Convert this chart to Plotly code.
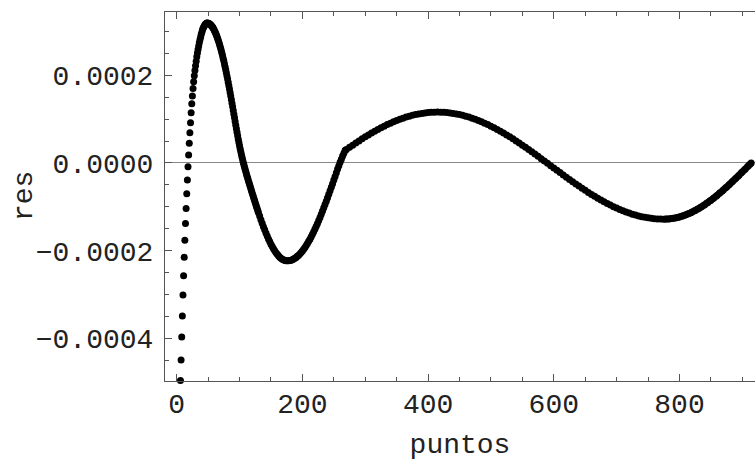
import plotly.graph_objects as go

# Point indices (x) for each read-off section of the curve
x_rise = list(range(6, 49))            # distinct dots, rising to the first peak
x_fall = list(range(49, 131))          # steep fall
x_trough = list(range(132, 269, 2))    # first trough up to the kink
x_hump = list(range(270, 776, 5))      # hump and second trough
x_tail = [778, 780, 783, 785, 788, 790, 793, 795, 798, 800, 803, 805, 808, 810,
          813, 815, 818, 820, 823, 825, 828, 830, 833, 835, 838, 840, 843, 845,
          848, 850, 853, 855, 858, 860, 863, 865, 868, 870, 873, 875, 878, 880,
          883, 885, 888, 890, 893, 895, 898, 900, 903, 905, 908, 910, 912, 914]

# Residual values, in units of 1e-6
res_rise = [-496, -449, -397, -349, -301, -257, -215, -176, -138, -104, -70, -39,
            -8.4, 18.2, 44.9, 69.1, 91.9, 114.5, 135, 153, 170, 185, 199, 211,
            222, 232, 242, 251, 259, 267, 274, 281, 287, 293, 298, 303, 307, 310,
            313, 315, 317, 318, 319]
res_fall = [319.0, 318.8, 318.3, 317.6, 316.6, 315.3, 313.8, 312.0, 310.0, 307.7,
            305.1, 302.4, 299.3, 296.0, 292.5, 288.7, 284.7, 280.4, 276.0, 271.2,
            266.3, 261.2, 255.8, 250.2, 244.5, 238.5, 232.3, 225.9, 219.3, 212.6,
            205.6, 198.6,
            191.3, 183.9, 176.3, 168.5, 160.6, 152.6, 144.5, 136.3, 128.0, 119.7,
            111.3, 102.9, 94.5, 86.2, 78.0, 70.0, 62.1, 54.4, 46.9, 39.6,
            32.6, 25.9, 19.4, 13.1, 7.1, 1.3, -4.3, -9.8, -15.1, -20.2,
            -25.3, -30.2,
            -34.9, -39.7, -44.4, -49.1, -53.8, -58.5, -63.2, -67.8, -72.4, -77.0,
            -81.6, -86.2, -90.7, -95.2, -99.6, -104.0, -108.3, -112.6]
res_trough = [-121.1, -129.3, -137.3, -145.1, -152.5, -159.7, -166.5, -173.1,
              -179.2, -185.1, -190.5, -195.6, -200.2, -204.5, -208.3, -211.7,
              -214.7, -217.2, -219.3, -220.9, -222.1, -222.8, -223.0,
              -222.8, -222.4, -221.6, -220.5, -219.0, -217.3, -215.3, -212.9,
              -210.3, -207.3, -204.1, -200.6, -196.7, -192.6, -188.3, -183.6,
              -178.7, -173.6, -168.2, -162.5, -156.6, -150.5, -144.2, -137.7,
              -131.0, -124.1, -117.0, -109.7, -102.3, -94.7, -87.2, -79.4,
              -71.5, -63.5, -55.3, -47.2, -38.9, -30.6, -22.3, -13.9,
              -6.0, 1.5, 8.8, 15.8, 22.5, 29.0]
res_hump = [30.7, 35.7, 40.7, 45.6, 50.3, 55.0, 59.6, 64.0, 68.3, 72.4,
            76.4, 80.3, 84.0, 87.5, 90.8, 93.9, 96.9, 99.7, 102.2, 104.6,
            106.7, 108.6, 110.4, 111.8, 113.1, 114.1, 115.0, 115.5, 115.9, 116.0,
            115.9, 115.5, 115.0, 114.1, 113.1, 111.8, 110.4, 108.6, 106.7, 104.6,
            102.2, 99.7, 96.9, 93.9, 90.8, 87.5, 84.0, 80.3, 76.4, 72.4,
            68.3, 64.0, 59.6, 55.0, 50.3, 45.6, 40.7, 35.7, 30.7, 25.6,
            20.4, 15.2, 9.9, 4.6, -0.7, -6.0, -11.3, -16.6, -21.9, -27.2,
            -32.4, -37.6, -42.7, -47.7, -52.7, -57.6, -62.3, -67.0, -71.6, -76.0,
            -80.3, -84.4, -88.4, -92.3, -95.9, -99.5, -102.8, -105.9, -108.9, -111.7,
            -114.2, -116.6, -118.7, -120.6, -122.4, -123.8, -125.1, -126.1, -127.0, -127.5,
            -127.9, -128.0]
res_tail = [-127.9, -127.8, -127.5, -127.2, -126.6, -126.2, -125.4, -124.7,
            -123.7, -122.9, -121.6, -120.7, -119.2, -118.1, -116.4, -115.1,
            -113.2, -111.8, -109.6, -108.1, -105.7, -104.1, -101.5, -99.7,
            -96.9, -95.0, -92.0, -90.0, -86.9, -84.7, -81.4, -79.2, -75.7,
            -73.3, -69.8, -67.3, -63.6, -61.1, -57.2, -54.6, -50.6, -48.0,
            -43.9, -41.2, -37.1, -34.3, -30.1, -27.3, -23.0, -20.2, -15.9,
            -13.0, -8.7, -5.8, -2.9, 0.0]

x_tick_vals = [0, 200, 400, 600, 800]
y_tick_vals = [-0.0004, -0.0002, 0.0, 0.0002]
y_tick_text = ["\u22120.0004", "\u22120.0002", "0.0000", "0.0002"]

puntos = x_rise + x_fall + x_trough + x_hump + x_tail
res = [v * 1e-6 for v in res_rise + res_fall + res_trough + res_hump + res_tail]

FONT = "Liberation Mono, Courier New, monospace"
AXC = "#555555"

fig = go.Figure()
fig.add_trace(go.Scatter(
    x=puntos, y=res, mode="markers",
    marker=dict(size=7, color="black", line=dict(width=0)),
    cliponaxis=False, showlegend=False, hoverinfo="skip",
))

fig.update_layout(
    width=755, height=461,
    margin=dict(l=165, r=0, t=12, b=80),
    paper_bgcolor="white", plot_bgcolor="white",
    font=dict(family=FONT, size=28, color="#222222"),
)
fig.update_xaxes(
    range=[-18.6, 920.1], tickvals=x_tick_vals, automargin=False,
    ticks="inside", ticklen=7, tickwidth=1, tickcolor=AXC,
    minor=dict(dtick=50, tick0=0, ticks="inside", ticklen=4, tickcolor=AXC),
    showline=True, linecolor=AXC, linewidth=1, mirror="ticks",
    showgrid=False, zeroline=False,
    ticklabelstandoff=-3,
    title=dict(text="puntos", standoff=27, font=dict(family=FONT, size=28)),
)
fig.update_yaxes(
    range=[-0.0004971, 0.0003443], tickvals=y_tick_vals, ticktext=y_tick_text,
    automargin=False,
    ticks="inside", ticklen=7, tickwidth=1, tickcolor=AXC,
    minor=dict(dtick=0.00005, tick0=0, ticks="inside", ticklen=4, tickcolor=AXC),
    showline=True, linecolor=AXC, linewidth=1, mirror=False,
    showgrid=False, zeroline=True, zerolinecolor="#888888", zerolinewidth=1,
    ticklabelstandoff=5,
)
fig.add_annotation(
    text="res", textangle=-90, showarrow=False,
    xref="paper", yref="paper", x=(24.5 - 165) / 590, y=0.5,
    xanchor="center", yanchor="middle",
    font=dict(family=FONT, size=28, color="#222222"),
)

fig.write_html("out.html")
